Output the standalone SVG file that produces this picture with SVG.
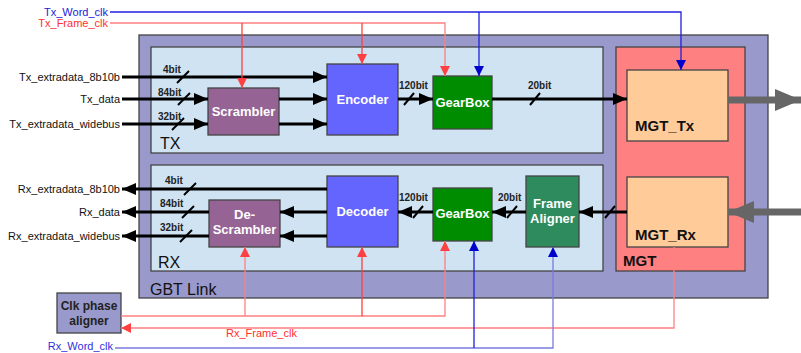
<svg xmlns="http://www.w3.org/2000/svg" width="801" height="353" viewBox="0 0 801 353">
<style>
text{font-family:"Liberation Sans",Arial,sans-serif}
.lbl{font-size:11px;fill:#111}
.bit{font-size:10px;font-weight:bold;fill:#222}
.blk{font-size:13px;font-weight:bold;fill:#fff}
.big{font-size:16px;fill:#111}
.mgt{font-size:15px;font-weight:bold;fill:#111}
.data{stroke:#000;stroke-width:3;fill:none}
.sl{stroke:#000;stroke-width:2}
.red{stroke:#ff4040;stroke-width:1.3;fill:none}
.redl{stroke:#ff8080;stroke-width:1.3;fill:none}
.blue{stroke:#2020dd;stroke-width:1.3;fill:none}
.bluel{stroke:#7a7ae0;stroke-width:1.3;fill:none}
.box{stroke:#444;stroke-width:1.3}
</style>
<defs>
<marker id="ab" markerUnits="userSpaceOnUse" markerWidth="14" markerHeight="12" refX="14" refY="6" orient="auto"><path d="M0,0L14,6L0,12z" fill="#000"/></marker>
<marker id="ar" markerUnits="userSpaceOnUse" markerWidth="10" markerHeight="10" refX="10" refY="5" orient="auto"><path d="M0,0L10,5L0,10z" fill="#ff4040"/></marker>
<marker id="au" markerUnits="userSpaceOnUse" markerWidth="10" markerHeight="10" refX="10" refY="5" orient="auto"><path d="M0,0L10,5L0,10z" fill="#0000cc"/></marker>
<marker id="ag" markerUnits="userSpaceOnUse" markerWidth="26" markerHeight="22" refX="26" refY="11" orient="auto"><path d="M0,0L26,11L0,22z" fill="#666"/></marker>
</defs>

<g id="gbt-link">
<rect x="139" y="35" width="629" height="263" fill="#9999cc" class="box"/>
<text x="150" y="295" class="big">GBT Link</text>
</g>
<g id="tx">
<rect x="151" y="47" width="452" height="106" fill="#cfe3f2" class="box"/>
<text x="160" y="149" class="big">TX</text>
</g>
<g id="rx">
<rect x="151" y="165" width="452" height="106" fill="#cfe3f2" class="box"/>
<text x="158" y="268" class="big">RX</text>
</g>
<g id="mgt">
<rect x="616" y="47" width="129" height="224" fill="#ff8080" class="box"/>
<text x="623" y="266" class="mgt">MGT</text>
</g>
<g id="mgt-tx">
<rect x="627" y="70" width="101" height="71" fill="#ffcc99" class="box"/>
<text x="635" y="131" class="mgt">MGT_Tx</text>
</g>
<g id="mgt-rx">
<rect x="627" y="177" width="101" height="70" fill="#ffcc99" class="box"/>
<text x="635" y="240" class="mgt">MGT_Rx</text>
</g>
<g id="scrambler">
<rect x="208" y="88" width="71" height="47" fill="#956495" class="box"/>
<text x="243.5" y="116" class="blk" text-anchor="middle">Scrambler</text>
</g>
<g id="encoder">
<rect x="327" y="64" width="71" height="71" fill="#6464ff" class="box"/>
<text x="362.5" y="104" class="blk" text-anchor="middle">Encoder</text>
</g>
<g id="gearbox-tx">
<rect x="433" y="76" width="59" height="53" fill="#008c00" class="box"/>
<text x="462.5" y="107" class="blk" text-anchor="middle">GearBox</text>
</g>
<g id="descrambler">
<rect x="209" y="200" width="71" height="47" fill="#956495" class="box"/>
<text x="244.5" y="219" class="blk" text-anchor="middle">De-</text>
<text x="244.5" y="234" class="blk" text-anchor="middle">Scrambler</text>
</g>
<g id="decoder">
<rect x="327" y="176" width="71" height="71" fill="#6464ff" class="box"/>
<text x="362.5" y="216" class="blk" text-anchor="middle">Decoder</text>
</g>
<g id="gearbox-rx">
<rect x="433" y="188" width="59" height="53" fill="#008c00" class="box"/>
<text x="462.5" y="218" class="blk" text-anchor="middle">GearBox</text>
</g>
<g id="frame-aligner">
<rect x="526" y="176" width="53" height="71" fill="#2e8b5e" class="box"/>
<text x="552.5" y="208" class="blk" text-anchor="middle">Frame</text>
<text x="552.5" y="223" class="blk" text-anchor="middle">Aligner</text>
</g>
<g id="clk-phase-aligner">
<rect x="57" y="293" width="64" height="40" fill="#9999cc" class="box"/>
<text x="89" y="310" font-size="12" font-weight="bold" fill="#222" text-anchor="middle">Clk phase</text>
<text x="89" y="325" font-size="12" font-weight="bold" fill="#222" text-anchor="middle">aligner</text>
</g>

<g id="connectors">
<!-- TX data -->
<line x1="122" y1="77" x2="327" y2="77" class="data" marker-end="url(#ab)"/>
<line x1="122" y1="99" x2="208" y2="99" class="data" marker-end="url(#ab)"/>
<line x1="122" y1="124" x2="208" y2="124" class="data" marker-end="url(#ab)"/>
<line x1="279" y1="99" x2="327" y2="99" class="data" marker-end="url(#ab)"/>
<line x1="279" y1="124" x2="327" y2="124" class="data" marker-end="url(#ab)"/>
<line x1="398" y1="99" x2="433" y2="99" class="data" marker-end="url(#ab)"/>
<line x1="492" y1="99" x2="627" y2="99" class="data" marker-end="url(#ab)"/>
<line x1="728" y1="100" x2="801" y2="100" stroke="#666" stroke-width="7" marker-end="url(#ag)"/>
<line x1="177" y1="83" x2="189" y2="71" class="sl"/>
<line x1="178" y1="105" x2="190" y2="93" class="sl"/>
<line x1="172" y1="130" x2="184" y2="118" class="sl"/>
<line x1="404" y1="105" x2="414" y2="93" class="sl"/>
<line x1="530" y1="105" x2="540" y2="93" class="sl"/>
<!-- RX data -->
<line x1="327" y1="189" x2="122" y2="189" class="data" marker-end="url(#ab)"/>
<line x1="209" y1="212" x2="122" y2="212" class="data" marker-end="url(#ab)"/>
<line x1="209" y1="236" x2="122" y2="236" class="data" marker-end="url(#ab)"/>
<line x1="327" y1="212" x2="280" y2="212" class="data" marker-end="url(#ab)"/>
<line x1="327" y1="236" x2="280" y2="236" class="data" marker-end="url(#ab)"/>
<line x1="433" y1="212" x2="398" y2="212" class="data" marker-end="url(#ab)"/>
<line x1="526" y1="212" x2="492" y2="212" class="data" marker-end="url(#ab)"/>
<line x1="627" y1="212" x2="579" y2="212" class="data" marker-end="url(#ab)"/>
<line x1="801" y1="212" x2="728" y2="212" stroke="#666" stroke-width="7" marker-end="url(#ag)"/>
<line x1="184" y1="195" x2="196" y2="183" class="sl"/>
<line x1="182" y1="218" x2="194" y2="206" class="sl"/>
<line x1="180" y1="242" x2="192" y2="230" class="sl"/>
<line x1="413" y1="218" x2="423" y2="206" class="sl"/>
<line x1="507" y1="218" x2="517" y2="206" class="sl"/>
<line x1="605" y1="218" x2="615" y2="206" class="sl"/>
<!-- TX clocks -->
<polyline points="110,12 681,12 681,70" class="blue" marker-end="url(#au)"/>
<line x1="479" y1="12" x2="479" y2="76" class="blue" marker-end="url(#au)"/>
<polyline points="110,23 445,23 445,76" class="redl" marker-end="url(#ar)"/>
<line x1="242" y1="23" x2="242" y2="88" class="red" marker-end="url(#ar)"/>
<line x1="362" y1="23" x2="362" y2="64" class="red" marker-end="url(#ar)"/>
<!-- RX clocks -->
<polyline points="121,316 445,316 445,241" class="redl" marker-end="url(#ar)"/>
<line x1="245" y1="316" x2="245" y2="247" class="redl" marker-end="url(#ar)"/>
<line x1="362" y1="316" x2="362" y2="247" class="red" marker-end="url(#ar)"/>
<polyline points="674,247 674,328 121,328" class="redl" marker-end="url(#ar)"/>
<polyline points="115,348 553,348 553,247" class="bluel" marker-end="url(#au)"/>
<line x1="474" y1="348" x2="474" y2="241" class="blue" marker-end="url(#au)"/>
</g>

<g id="labels">
<text x="108" y="16" font-size="11" fill="#2020dd" text-anchor="end">Tx_Word_clk</text>
<text x="108" y="27" font-size="11" fill="#ff3030" text-anchor="end">Tx_Frame_clk</text>
<text x="120" y="81" class="lbl" text-anchor="end">Tx_extradata_8b10b</text>
<text x="120" y="103" class="lbl" text-anchor="end">Tx_data</text>
<text x="120" y="128" class="lbl" text-anchor="end">Tx_extradata_widebus</text>
<text x="120" y="193" class="lbl" text-anchor="end">Rx_extradata_8b10b</text>
<text x="120" y="216" class="lbl" text-anchor="end">Rx_data</text>
<text x="120" y="240" class="lbl" text-anchor="end">Rx_extradata_widebus</text>
<text x="163" y="73" class="bit">4bit</text>
<text x="158" y="96" class="bit">84bit</text>
<text x="158" y="120" class="bit">32bit</text>
<text x="399" y="89" class="bit">120bit</text>
<text x="528" y="89" class="bit">20bit</text>
<text x="165" y="184" class="bit">4bit</text>
<text x="160" y="207" class="bit">84bit</text>
<text x="160" y="231" class="bit">32bit</text>
<text x="399" y="201" class="bit">120bit</text>
<text x="498" y="201" class="bit">20bit</text>
<text x="226" y="337" font-size="11" fill="#ff3030">Rx_Frame_clk</text>
<text x="113" y="350" font-size="11" fill="#3030dd" text-anchor="end">Rx_Word_clk</text>
</g>
</svg>
